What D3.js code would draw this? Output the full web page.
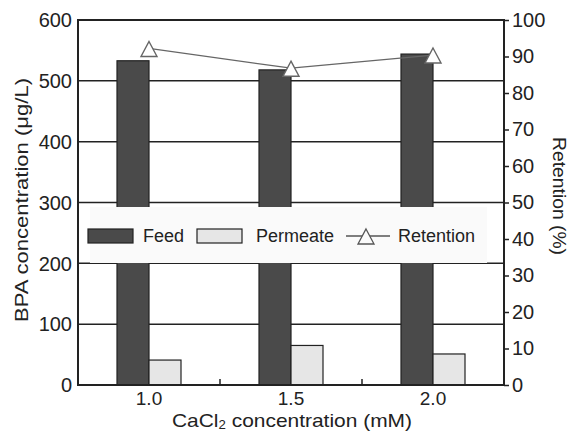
<!DOCTYPE html>
<html>
<head>
<meta charset="utf-8">
<script src="https://cdn.jsdelivr.net/npm/d3@7"></script>
<style>
  body { margin: 0; background: #fff; }
  text { font-family: "Liberation Sans", Arial, Helvetica, sans-serif; fill: #222; }
</style>
</head>
<body>
<div id="chart"></div>
<script>
// data
var concentrations = ["1.0", "1.5", "2.0"];
var feed = [533, 518, 544];
var permeate = [41, 65, 51];
var retention = [92.2, 86.8, 90.4];
var leftTicks = [0, 100, 200, 300, 400, 500, 600];
var rightTicks = [0, 10, 20, 30, 40, 50, 60, 70, 80, 90, 100];
var seriesNames = ["Feed", "Permeate"];

let svgWidth = 569;
let svgHeight = 432;

let margin = { top: 20, right: 65, bottom: 47, left: 78 };
let plotLeft = margin.left, plotRight = svgWidth - margin.right;
let plotTop = margin.top, plotBottom = svgHeight - margin.bottom;

let svg = d3.select("#chart")
  .append("svg")
  .attr("width", svgWidth)
  .attr("height", svgHeight);

let x = d3.scaleBand().domain(concentrations).range([plotLeft, plotRight]);
let xInner = d3.scaleBand().domain(seriesNames).range([39, 103]);
let yLeft = d3.scaleLinear().domain([0, 600]).range([plotBottom, plotTop]);
let yRight = d3.scaleLinear().domain([0, 100]).range([plotBottom, plotTop]);

let ink = "#222";

// gridlines
svg.append("g").selectAll("line")
  .data(leftTicks.filter(d => d > 0 && d < 600))
  .enter().append("line")
  .attr("x1", plotLeft).attr("x2", plotRight)
  .attr("y1", d => yLeft(d)).attr("y2", d => yLeft(d))
  .attr("stroke", ink).attr("stroke-width", 1.5);

// bars
let fills = { Feed: "#4a4a4a", Permeate: "#e6e6e6" };
let barData = [];
concentrations.forEach((c, i) => {
  barData.push({ c: c, s: "Feed", v: feed[i] });
  barData.push({ c: c, s: "Permeate", v: permeate[i] });
});
svg.append("g").selectAll("rect")
  .data(barData)
  .enter().append("rect")
  .attr("x", d => x(d.c) + xInner(d.s))
  .attr("width", xInner.bandwidth())
  .attr("y", d => yLeft(d.v))
  .attr("height", d => yLeft(0) - yLeft(d.v))
  .attr("fill", d => fills[d.s])
  .attr("stroke", ink).attr("stroke-width", 1.2);

// legend box
let legend = svg.append("g");
legend.append("rect")
  .attr("x", 90).attr("y", 207).attr("width", 397).attr("height", 56)
  .attr("fill", "#fafafa");
legend.append("rect")
  .attr("x", 88).attr("y", 229).attr("width", 45).attr("height", 14)
  .attr("fill", fills.Feed).attr("stroke", ink).attr("stroke-width", 1.2);
legend.append("text").attr("x", 143).attr("y", 242).attr("font-size", 18).text("Feed");
legend.append("rect")
  .attr("x", 197).attr("y", 229).attr("width", 45).attr("height", 14)
  .attr("fill", fills.Permeate).attr("stroke", ink).attr("stroke-width", 1.2);
legend.append("text").attr("x", 256).attr("y", 242).attr("font-size", 18).text("Permeate");
legend.append("line")
  .attr("x1", 346).attr("x2", 390).attr("y1", 236).attr("y2", 236)
  .attr("stroke", "#555").attr("stroke-width", 1.3);
legend.append("path")
  .attr("d", "M366,229L374,244L358,244Z")
  .attr("fill", "#fafafa").attr("stroke", "#555").attr("stroke-width", 1.3);
legend.append("text").attr("x", 398).attr("y", 242).attr("font-size", 18).text("Retention");

// retention line
let line = d3.line()
  .x((d, i) => x(concentrations[i]) + x.bandwidth() / 2)
  .y(d => yRight(d));
svg.append("path")
  .datum(retention)
  .attr("d", line)
  .attr("fill", "none").attr("stroke", "#666").attr("stroke-width", 1.3);
svg.append("g").selectAll("path")
  .data(retention)
  .enter().append("path")
  .attr("transform", (d, i) => `translate(${x(concentrations[i]) + x.bandwidth() / 2},${yRight(d)})`)
  .attr("d", "M0,-7L8,8L-8,8Z")
  .attr("fill", "#fff").attr("stroke", "#666").attr("stroke-width", 1.4);

// frame
svg.append("rect")
  .attr("x", plotLeft).attr("y", plotTop)
  .attr("width", plotRight - plotLeft).attr("height", plotBottom - plotTop)
  .attr("fill", "none").attr("stroke", ink).attr("stroke-width", 2);

// small ticks between categories
svg.append("g").selectAll("line")
  .data(concentrations.slice(0, -1))
  .enter().append("line")
  .attr("x1", d => x(d) + x.bandwidth()).attr("x2", d => x(d) + x.bandwidth())
  .attr("y1", plotBottom).attr("y2", plotBottom - 6)
  .attr("stroke", ink).attr("stroke-width", 1.5);

// left axis labels
svg.append("g").selectAll("text")
  .data(leftTicks)
  .enter().append("text")
  .attr("x", plotLeft - 6).attr("y", d => yLeft(d))
  .attr("dy", "0.36em")
  .attr("text-anchor", "end")
  .attr("font-size", 20)
  .text(d => d);

// right axis
let rightAxis = d3.axisRight(yRight).tickValues(rightTicks).tickSize(5).tickPadding(3);
let ra = svg.append("g")
  .attr("transform", `translate(${plotRight},0)`)
  .call(rightAxis);
ra.select(".domain").remove();
ra.selectAll("line").attr("stroke", ink).attr("stroke-width", 1.5);
ra.selectAll("text").attr("font-size", 20).attr("fill", ink)
  .attr("font-family", "Liberation Sans, Arial, sans-serif");

// x labels
svg.append("g").selectAll("text")
  .data(concentrations)
  .enter().append("text")
  .attr("x", d => x(d) + x.bandwidth() / 2)
  .attr("y", 405)
  .attr("text-anchor", "middle")
  .attr("font-size", 19)
  .text(d => d);

// axis titles
let xt = svg.append("text")
  .attr("x", 172).attr("y", 427)
  .attr("font-size", 19)
  .attr("textLength", 240)
  .attr("lengthAdjust", "spacingAndGlyphs");
xt.append("tspan").text("CaCl");
xt.append("tspan").attr("font-size", 12).attr("dy", 2).text("2");
xt.append("tspan").attr("dy", -2).text(" concentration (mM)");

svg.append("text")
  .attr("transform", "translate(28,200) rotate(-90)")
  .attr("text-anchor", "middle")
  .attr("font-size", 19)
  .attr("textLength", 244)
  .attr("lengthAdjust", "spacingAndGlyphs")
  .text("BPA concentration (\u03bcg/L)");

svg.append("text")
  .attr("transform", "translate(553,196) rotate(90)")
  .attr("text-anchor", "middle")
  .attr("font-size", 19)
  .attr("textLength", 118)
  .attr("lengthAdjust", "spacingAndGlyphs")
  .text("Retention (%)");
</script>
</body>
</html>
